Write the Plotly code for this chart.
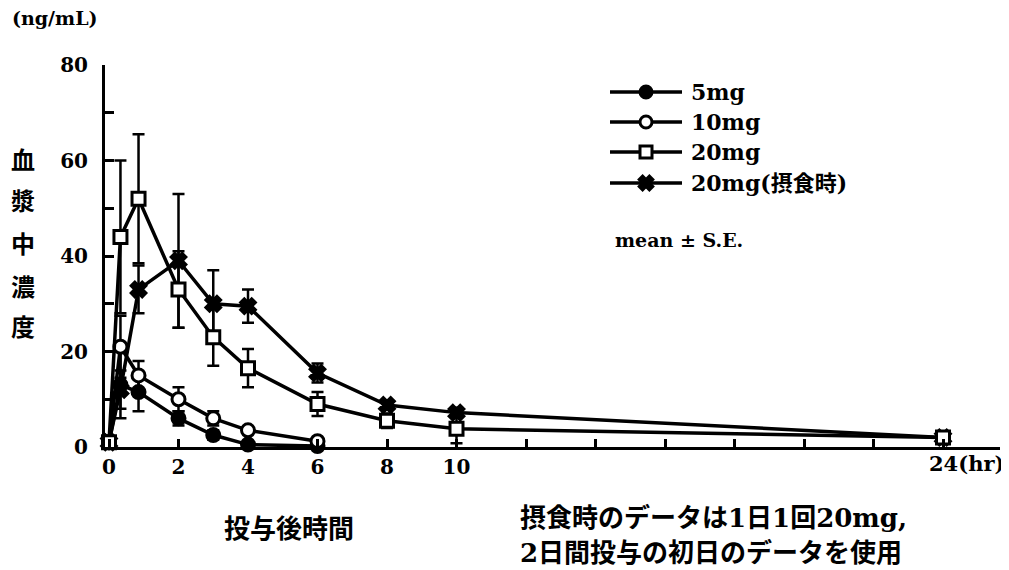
import plotly.graph_objects as go

# ---- data ----
t_all = [0, 0.33, 0.85, 2, 3, 4, 6, 8, 10, 24]
t_short = [0, 0.33, 0.85, 2, 3, 4, 6]

mg5 = [1, 13, 11.5, 6, 2.5, 0.5, 0.2]
mg5_se = [0, 7, 4, 1.5, 1, 0.5, 0]

mg10 = [1, 21, 15, 10, 6, 3.5, 1.2]
mg10_se = [0, 6.5, 3, 2.5, 1.5, 0.5, 0.5]

mg20 = [1, 44, 52, 33, 23, 16.5, 9, 5.5, 3.8, 2]
mg20_se = [0, 16, 13.5, 8, 6, 4, 2.5, 1.5, 3, 0.5]

fed20 = [1, 12, 33, 39, 30, 29.5, 15.5, 8.8, 7.2, 2]
fed20_se = [0, 4, 5, 14, 7, 3.5, 2, 1, 1, 0.5]

x_tickvals = [0, 2, 4, 6, 8, 10, 12, 14, 16, 18, 20, 22, 24]
x_ticktext = ["0", "2", "4", "6", "8", "10", "", "", "", "", "", "", ""]
y_tickvals = [0, 20, 40, 60, 80]

legend_names = ["5mg", "10mg", "20mg", "20mg(摂食時)"]

LAT = "DejaVu Serif, Noto Sans CJK JP"
JP = "Noto Sans CJK JP"

# plot area in screen pixels (page has an 8px body margin)
PX0, PX1, PY0, PY1 = 105, 1000, 447, 65

def px(x):
    return (x - PX0) / (PX1 - PX0)

def py(y):
    return (PY0 - y) / (PY0 - PY1)

fig = go.Figure()

def series(x, y, se, symbol, fill, name):
    fig.add_trace(go.Scatter(
        x=x, y=y, mode="lines+markers", name=name, showlegend=False,
        line=dict(color="black", width=3.5),
        marker=dict(symbol=symbol, size=13, color=fill,
                    line=dict(color="black", width=3)),
        error_y=dict(type="data", array=se, visible=True, color="black",
                     thickness=2.5, width=6),
        cliponaxis=False,
    ))

series(t_all, fed20, fed20_se, "x", "black", legend_names[3])
series(t_short, mg5, mg5_se, "circle", "black", legend_names[0])
series(t_short, mg10, mg10_se, "circle", "white", legend_names[1])
series(t_all, mg20, mg20_se, "square", "white", legend_names[2])

# ---- custom legend on a pixel-coordinate overlay axis ----
leg_y = [92, 122, 152, 183]
leg_sym = ["circle", "circle", "square", "x"]
leg_fill = ["black", "white", "white", "black"]
for i in range(4):
    fig.add_trace(go.Scatter(
        x=[610, 682], y=[leg_y[i], leg_y[i]], mode="lines",
        line=dict(color="black", width=3.5), xaxis="x2", yaxis="y2",
        showlegend=False, hoverinfo="skip"))
    fig.add_trace(go.Scatter(
        x=[646], y=[leg_y[i]], mode="markers",
        marker=dict(symbol=leg_sym[i], size=12, color=leg_fill[i],
                    line=dict(color="black", width=3)),
        xaxis="x2", yaxis="y2", showlegend=False, hoverinfo="skip"))

annos = []
def note(x, y, text, family, size, xanchor="left"):
    annos.append(dict(x=px(x), y=py(y), xref="paper", yref="paper", text=text,
                      xanchor=xanchor, yanchor="middle", showarrow=False,
                      font=dict(family=family, size=size, color="black", weight="bold")))

for i in range(4):
    note(689, leg_y[i], legend_names[i], LAT, 22)
note(613, 240, "mean ± S.E.", LAT, 19)
note(10, 18, "(ng/mL)", LAT, 19)
for ch, yy in zip("血漿中濃度", [158, 200, 242, 285, 325]):
    note(23, yy, ch, JP, 24, "center")
note(927, 464, "24(hr)", LAT, 21)
note(289, 526, "投与後時間", JP, 26, "center")
note(518, 518, "摂食時のデータは1日1回20mg,", LAT, 26)
note(518, 553, "2日間投与の初日のデータを使用", LAT, 26)

fig.update_layout(
    width=1001, height=562,
    margin=dict(l=PX0 - 8, r=1001 - (PX1 - 8), t=PY1 - 8, b=562 - (PY0 - 8)),
    paper_bgcolor="white", plot_bgcolor="white",
    showlegend=False,
    annotations=annos,
    xaxis=dict(
        range=[-0.115, 25.64], tickvals=x_tickvals, ticktext=x_ticktext,
        showgrid=False, zeroline=False, showline=True, linecolor="black", linewidth=3,
        ticks="inside", ticklen=8, tickwidth=2.5, tickcolor="black",
        tickfont=dict(family=LAT, size=20, color="black", weight="bold"),
        ticklabelstandoff=0, automargin=False,
    ),
    yaxis=dict(
        range=[0, 80], tickvals=y_tickvals,
        showgrid=False, zeroline=False, showline=True, linecolor="black", linewidth=3,
        ticks="inside", ticklen=9, tickwidth=2.5, tickcolor="black",
        tickfont=dict(family=LAT, size=20, color="black", weight="bold"),
        ticklabelstandoff=10, automargin=False,
        minor=dict(dtick=10, ticks="inside", ticklen=9, tickwidth=2.5, tickcolor="black"),
    ),
    xaxis2=dict(range=[PX0, PX1], overlaying="x", anchor="y2", visible=False),
    yaxis2=dict(range=[PY0, PY1], overlaying="y", anchor="x2", visible=False),
)

fig.write_html("out.html")
